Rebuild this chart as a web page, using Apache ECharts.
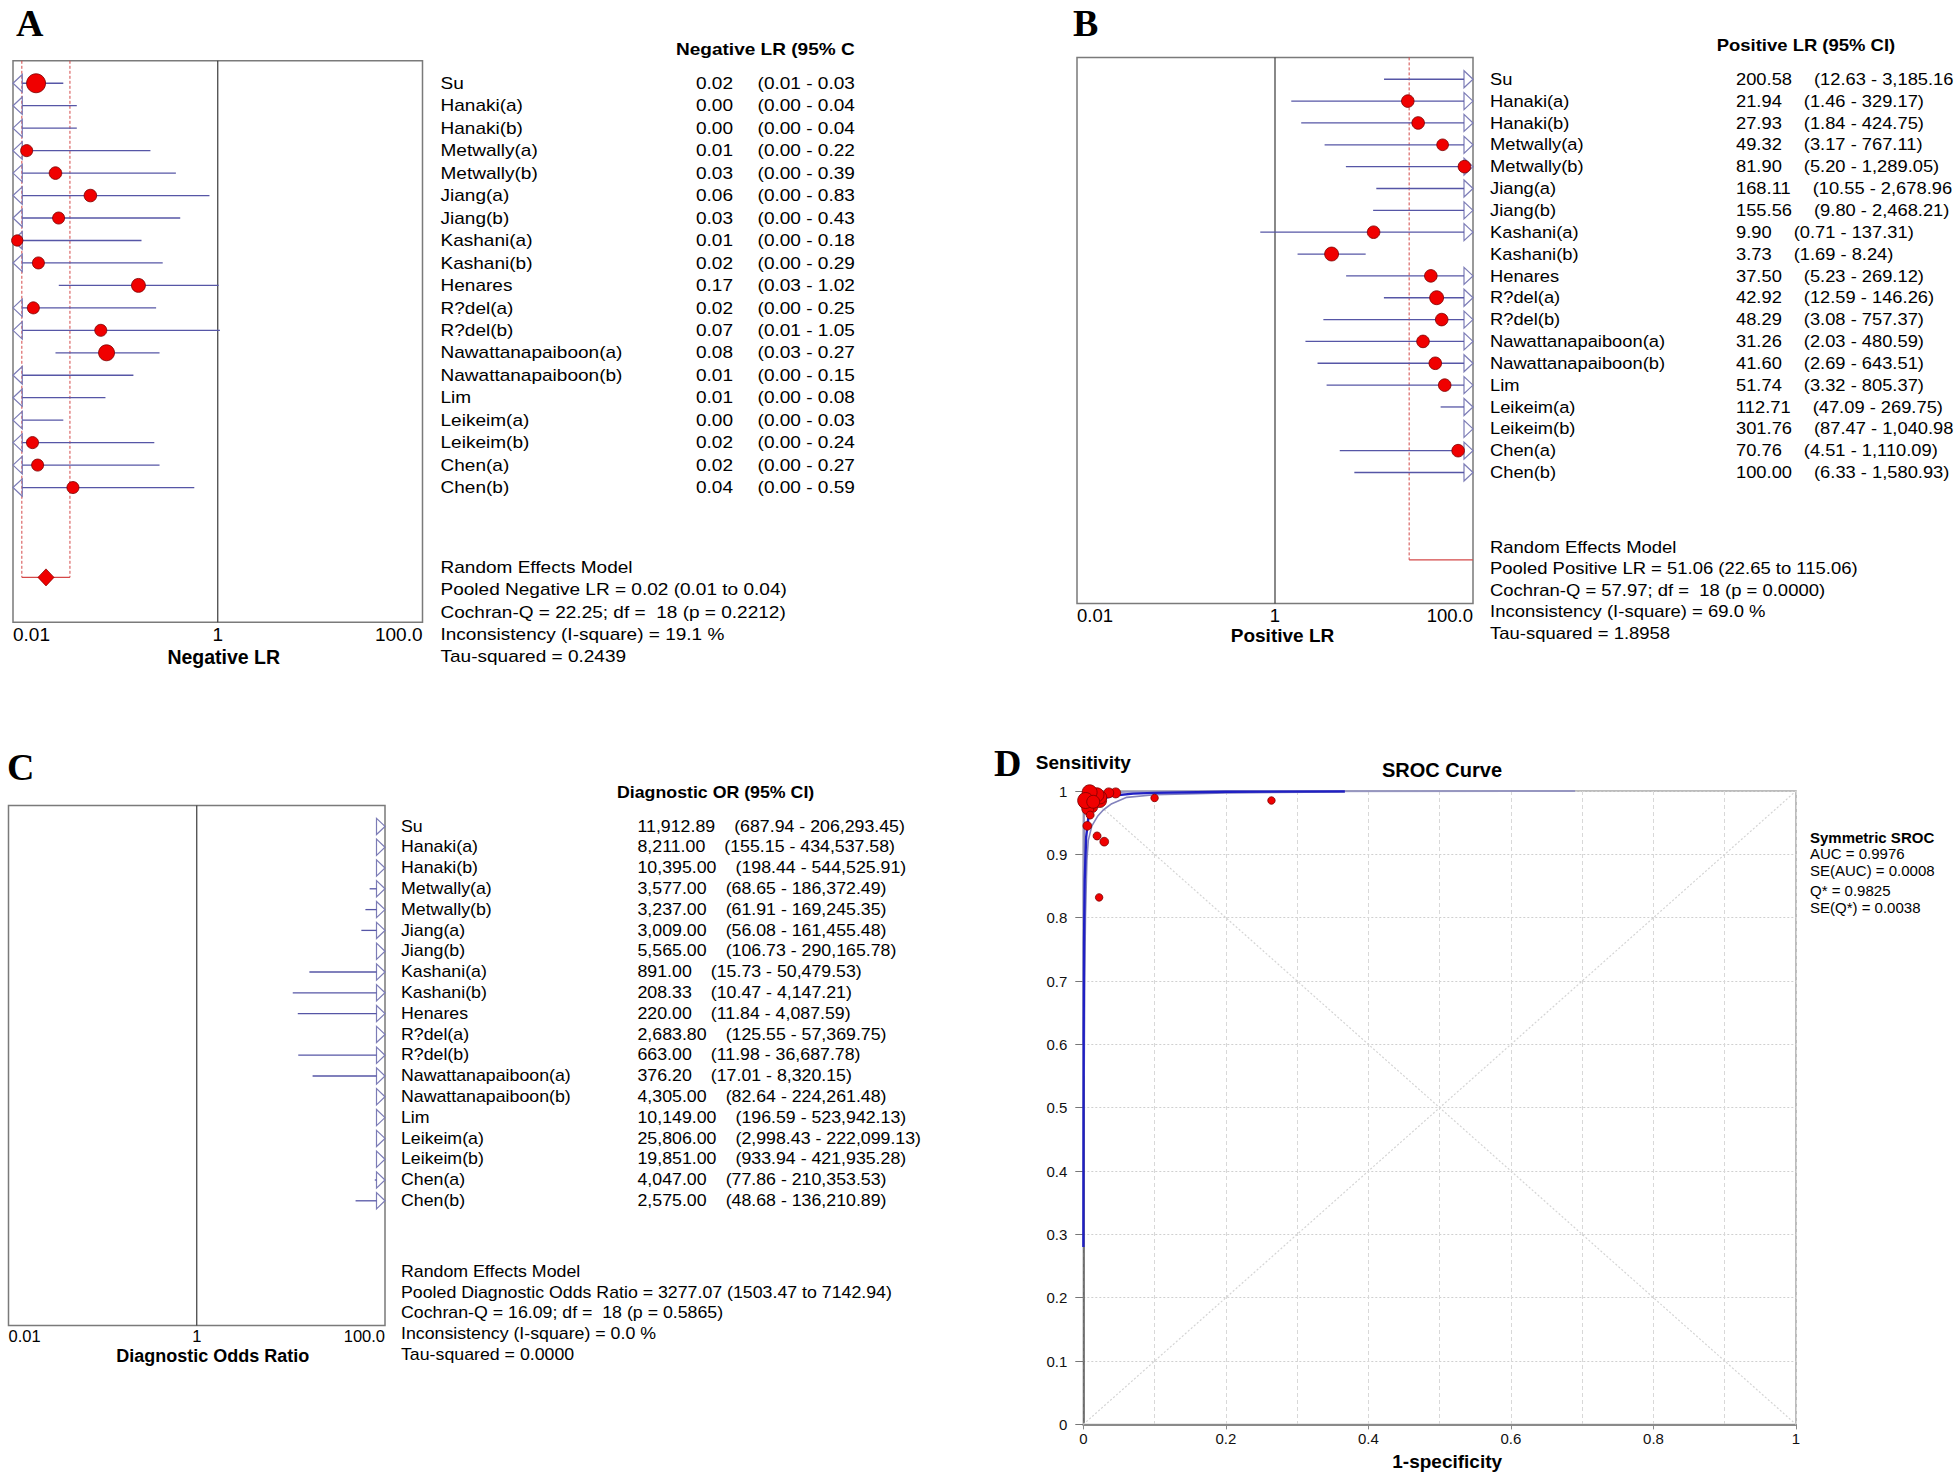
<!DOCTYPE html>
<html>
<head>
<meta charset="utf-8">
<script src="https://cdn.jsdelivr.net/npm/echarts@6/dist/echarts.min.js"></script>
<style>
html,body{margin:0;padding:0;background:#fff;}
#chart{width:1960px;height:1476px;}
</style>
</head>
<body>
<div id="chart"></div>
<script>
// ---------------- DATA ----------------
const studies = ['Su','Hanaki(a)','Hanaki(b)','Metwally(a)','Metwally(b)','Jiang(a)','Jiang(b)','Kashani(a)','Kashani(b)','Henares','R?del(a)','R?del(b)','Nawattanapaiboon(a)','Nawattanapaiboon(b)','Lim','Leikeim(a)','Leikeim(b)','Chen(a)','Chen(b)'];
const forestTickLabels = ['0.01', '1', '100.0'];

// Panel A - Negative LR
const negLR     = [0.0168, 0.003, 0.003, 0.0136, 0.026, 0.057, 0.0279, 0.011, 0.0177, 0.168, 0.0158, 0.072, 0.082, 0.0097, 0.006, 0.002, 0.0155, 0.0174, 0.0385];
const negLRLow  = [0.0095, 0.0002, 0.0002, 0.0008, 0.0015, 0.003, 0.0016, 0.0006, 0.001, 0.028, 0.0009, 0.0051, 0.026, 0.0006, 0.0004, 0.0001, 0.0009, 0.001, 0.0025];
const negLRHigh = [0.031, 0.042, 0.042, 0.22, 0.39, 0.83, 0.43, 0.18, 0.29, 1.02, 0.25, 1.05, 0.27, 0.15, 0.08, 0.031, 0.24, 0.27, 0.59];
const negLRText = ['0.02','0.00','0.00','0.01','0.03','0.06','0.03','0.01','0.02','0.17','0.02','0.07','0.08','0.01','0.01','0.00','0.02','0.02','0.04'];
const negLRCIText = ['(0.01 - 0.03','(0.00 - 0.04','(0.00 - 0.04','(0.00 - 0.22','(0.00 - 0.39','(0.00 - 0.83','(0.00 - 0.43','(0.00 - 0.18','(0.00 - 0.29','(0.03 - 1.02','(0.00 - 0.25','(0.01 - 1.05','(0.03 - 0.27','(0.00 - 0.15','(0.00 - 0.08','(0.00 - 0.03','(0.00 - 0.24','(0.00 - 0.27','(0.00 - 0.59'];
const weightNeg = [82, 33, 33, 33, 36, 36, 33, 29, 33, 44, 33, 33, 58, 33, 33, 33, 33, 33, 33];
const pooledNeg = [0.021, 0.0122, 0.036];
const summaryNeg = ['Random Effects Model','Pooled Negative LR = 0.02 (0.01 to 0.04)','Cochran-Q = 22.25; df = \u00a018 (p = 0.2212)','Inconsistency (I-square) = 19.1 %','Tau-squared = 0.2439'];

// Panel B - Positive LR
const posLR     = [200.58, 21.94, 27.93, 49.32, 81.90, 168.11, 155.56, 9.90, 3.73, 37.50, 42.92, 48.29, 31.26, 41.60, 51.74, 112.71, 301.76, 70.76, 100.00];
const posLRLow  = [12.63, 1.46, 1.84, 3.17, 5.20, 10.55, 9.80, 0.71, 1.69, 5.23, 12.59, 3.08, 2.03, 2.69, 3.32, 47.09, 87.47, 4.51, 6.33];
const posLRHigh = [3185.16, 329.17, 424.75, 767.11, 1289.05, 2678.96, 2468.21, 137.31, 8.24, 269.12, 146.26, 757.37, 480.59, 643.51, 805.37, 269.75, 1040.98, 1110.09, 1580.93];
const posLRCIText = ['(12.63 - 3,185.16','(1.46 - 329.17)','(1.84 - 424.75)','(3.17 - 767.11)','(5.20 - 1,289.05)','(10.55 - 2,678.96','(9.80 - 2,468.21)','(0.71 - 137.31)','(1.69 - 8.24)','(5.23 - 269.12)','(12.59 - 146.26)','(3.08 - 757.37)','(2.03 - 480.59)','(2.69 - 643.51)','(3.32 - 805.37)','(47.09 - 269.75)','(87.47 - 1,040.98','(4.51 - 1,110.09)','(6.33 - 1,580.93)'];
const weightPos = [36, 36, 36, 31, 36, 36, 36, 36, 44, 36, 44, 36, 36, 36, 36, 36, 36, 36, 36];
const pooledPos = [51.06, 22.65, 115.06];
const summaryPos = ['Random Effects Model','Pooled Positive LR = 51.06 (22.65 to 115.06)','Cochran-Q = 57.97; df = \u00a018 (p = 0.0000)','Inconsistency (I-square) = 69.0 %','Tau-squared = 1.8958'];

// Panel C - Diagnostic OR
const dor     = [11912.89, 8211.00, 10395.00, 3577.00, 3237.00, 3009.00, 5565.00, 891.00, 208.33, 220.00, 2683.80, 663.00, 376.20, 4305.00, 10149.00, 25806.00, 19851.00, 4047.00, 2575.00];
const dorLow  = [687.94, 155.15, 198.44, 68.65, 61.91, 56.08, 106.73, 15.73, 10.47, 11.84, 125.55, 11.98, 17.01, 82.64, 196.59, 2998.43, 933.94, 77.86, 48.68];
const dorHigh = [206293.45, 434537.58, 544525.91, 186372.49, 169245.35, 161455.48, 290165.78, 50479.53, 4147.21, 4087.59, 57369.75, 36687.78, 8320.15, 224261.48, 523942.13, 222099.13, 421935.28, 210353.53, 136210.89];
const weightDor = [36, 36, 36, 36, 36, 36, 36, 36, 36, 36, 36, 36, 36, 36, 36, 36, 36, 36, 36];
const pooledDor = [3277.07, 1503.47, 7142.94];
const summaryDor = ['Random Effects Model','Pooled Diagnostic Odds Ratio = 3277.07 (1503.47 to 7142.94)','Cochran-Q = 16.09; df = \u00a018 (p = 0.5865)','Inconsistency (I-square) = 0.0 %','Tau-squared = 0.0000'];

// Panel D - SROC
const fprD  = [0.0049, 0.0454, 0.0357, 0.0200, 0.0119, 0.0056, 0.0063, 0.100, 0.264, 0.0222, 0.0229, 0.0193, 0.0294, 0.0238, 0.0192, 0.0089, 0.0033, 0.0139, 0.0096];
const sensD = [0.983, 0.997, 0.997, 0.986, 0.975, 0.945, 0.972, 0.989, 0.985, 0.832, 0.985, 0.929, 0.920, 0.990, 0.994, 0.998, 0.985, 0.983, 0.962];
const weightD = [64, 25, 25, 42, 36, 19, 36, 14, 14, 14, 49, 16, 19, 42, 49, 56, 64, 42, 16];
const srocFpr  = [0.000125, 0.0003, 0.0005, 0.001, 0.002, 0.004, 0.007, 0.01, 0.02, 0.04, 0.07, 0.1, 0.2, 0.367];
const srocSens = [0.28, 0.49, 0.61, 0.76, 0.86, 0.927, 0.957, 0.97, 0.985, 0.9925, 0.9958, 0.997, 0.9987, 0.9994];
const lowerFpr  = [0.0012, 0.002, 0.003, 0.005, 0.007, 0.012, 0.02, 0.028, 0.04, 0.061, 0.1, 0.2, 0.367];
const lowerSens = [0.55, 0.70, 0.80, 0.89, 0.922, 0.945, 0.96, 0.97, 0.98, 0.99, 0.994, 0.997, 0.9985];
const upperFpr  = [0.0001, 0.0003, 0.0006, 0.0012, 0.003, 0.008, 0.02, 0.06, 0.2, 0.69];
const upperSens = [0.6, 0.86, 0.93, 0.965, 0.985, 0.994, 0.997, 0.999, 0.9997, 1.0];
const diagonalRefs = [[[0, 0], [1, 1]], [[0, 1], [1, 0]]];
const srocStats = ['AUC = 0.9976', 'SE(AUC) = 0.0008', 'Q* = 0.9825', 'SE(Q*) = 0.0038'];

// ---------------- HELPERS ----------------
const FONT = '"Liberation Sans", Arial, sans-serif';
const SERIF = '"Liberation Serif", "Times New Roman", serif';
const AX_MIN = 0.01, AX_MAX = 100;
const CI_COLOR = '#5656a6', TRI_COLOR = '#7c7cb6', DOT_FILL = '#f00000', DOT_STROKE = '#7a0000', POOL_COLOR = '#d44848';
const mctx = document.createElement('canvas').getContext('2d');
function textW(t, fs, bold) { mctx.font = (bold ? 'bold ' : '') + fs + 'px "Liberation Sans"'; return mctx.measureText(t).width; }
function fmt(n) { const p = n.toFixed(2).split('.'); return p[0].replace(/\B(?=(\d{3})+(?!\d))/g, ',') + '.' + p[1]; }

function forestSeries(gi, est, lo, hi, wt, valText, ciText, cfg) {
  const data = est.map((v, i) => [v, i + 1, lo[i], hi[i], wt[i], i]);
  return {
    type: 'custom', xAxisIndex: gi, yAxisIndex: gi, clip: false, silent: true, z: 3,
    encode: { x: 0, y: 1 }, data,
    renderItem(params, api) {
      const i = api.value(5), row = api.value(1);
      const vEst = api.value(0), vLo = api.value(2), vHi = api.value(3), w = api.value(4);
      const c = (x) => api.coord([x, row]);
      const y = c(1)[1];
      const rowH = api.coord([1, row + 1])[1] - y;
      const xL = c(AX_MIN)[0], xR = c(AX_MAX)[0];
      const th = rowH * 0.39;
      const ch = [];
      let x1, x2;
      if (vLo < AX_MIN) {
        x1 = xL + cfg.triW;
        ch.push({ type: 'polygon', shape: { points: [[xL, y], [xL + cfg.triW, y - th], [xL + cfg.triW, y + th]] }, style: { fill: 'rgba(0,0,0,0)', stroke: TRI_COLOR, lineWidth: 1.2 } });
      } else x1 = c(vLo)[0];
      if (vHi > AX_MAX) {
        x2 = xR - cfg.triW;
        ch.push({ type: 'polygon', shape: { points: [[xR, y], [xR - cfg.triW, y - th], [xR - cfg.triW, y + th]] }, style: { fill: 'rgba(0,0,0,0)', stroke: TRI_COLOR, lineWidth: 1.2 } });
      } else x2 = c(vHi)[0];
      if (x2 > x1) ch.push({ type: 'line', shape: { x1, y1: y, x2, y2: y }, style: { stroke: CI_COLOR, lineWidth: 1.3 } });
      if (vEst > AX_MIN && vEst < AX_MAX) {
        ch.push({ type: 'circle', shape: { cx: c(vEst)[0], cy: y, r: 1.05 * Math.sqrt(w) }, style: { fill: DOT_FILL, stroke: DOT_STROKE, lineWidth: 0.8 } });
      }
      const tStyle = (text) => ({ text, fontSize: cfg.fs, fontFamily: FONT, fill: '#000', align: 'left', verticalAlign: 'middle' });
      ch.push({ type: 'text', x: xR + cfg.nameOff, y, scaleX: cfg.sx, style: tStyle(studies[i]) });
      const vt = valText(i), ct = ciText(i);
      const vx = xR + cfg.valOff;
      ch.push({ type: 'text', x: vx, y, scaleX: cfg.sx, style: tStyle(vt) });
      ch.push({ type: 'text', x: vx + textW(vt, cfg.fs) * cfg.sx + cfg.gap, y, scaleX: cfg.sx, style: tStyle(ct) });
      return { type: 'group', children: ch };
    }
  };
}

function pooledSeries(gi, pooled) {
  return {
    type: 'custom', xAxisIndex: gi, yAxisIndex: gi, clip: false, silent: true, z: 2,
    encode: { x: 0, y: 1 }, data: [[pooled[0], 23, pooled[1], pooled[2]]],
    renderItem(params, api) {
      const est = api.value(0), row = api.value(1), lo = api.value(2), hi = api.value(3);
      const top = api.coord([1, 0])[1], bot = api.coord([1, 25])[1], yP = api.coord([1, row])[1];
      const xOf = (v) => api.coord([v, row])[0];
      const xL = xOf(AX_MIN), xR = xOf(AX_MAX);
      const ch = [{ type: 'line', shape: { x1: xOf(1), y1: top, x2: xOf(1), y2: bot }, style: { stroke: '#3a3a3a', lineWidth: 1.2 } }];
      const inLo = lo >= AX_MIN && lo <= AX_MAX, inHi = hi >= AX_MIN && hi <= AX_MAX;
      const dash = { stroke: POOL_COLOR, lineWidth: 1, lineDash: [3, 2] };
      if (inLo) ch.push({ type: 'line', shape: { x1: xOf(lo), y1: top, x2: xOf(lo), y2: yP }, style: dash });
      if (inHi) ch.push({ type: 'line', shape: { x1: xOf(hi), y1: top, x2: xOf(hi), y2: yP }, style: dash });
      if (lo < AX_MAX && hi > AX_MIN && (inLo || inHi)) {
        ch.push({ type: 'line', shape: { x1: Math.max(xL, xOf(lo)), y1: yP, x2: Math.min(xR, xOf(hi)), y2: yP }, style: { stroke: POOL_COLOR, lineWidth: 1.2 } });
      }
      if (inLo && inHi) {
        const xe = xOf(est);
        ch.push({ type: 'polygon', shape: { points: [[xe, yP - 8.5], [xe + 8, yP], [xe, yP + 8.5], [xe - 8, yP]] }, style: { fill: '#f00000', stroke: '#900000', lineWidth: 0.8 } });
      }
      return { type: 'group', children: ch };
    }
  };
}

function forestXAxis(gi, name, fs, margin, nameGap, nameFs, namePad) {
  return {
    gridIndex: gi, type: 'log', logBase: 10, min: AX_MIN, max: AX_MAX,
    name, nameLocation: 'middle', nameGap,
    nameTextStyle: { fontWeight: 'bold', fontSize: nameFs, color: '#000', fontFamily: FONT, padding: [0, 0, 0, namePad] },
    axisLine: { show: false }, axisTick: { show: false }, splitLine: { show: false },
    axisLabel: {
      show: true, fontSize: fs, color: '#000', fontFamily: FONT, margin,
      showMinLabel: true, showMaxLabel: true, alignMinLabel: 'left', alignMaxLabel: 'right',
      formatter: (v) => {
        const l = Math.log10(v);
        if (Math.abs(l + 2) < 1e-6) return forestTickLabels[0];
        if (Math.abs(l) < 1e-6) return forestTickLabels[1];
        if (Math.abs(l - 2) < 1e-6) return forestTickLabels[2];
        return '';
      }
    }
  };
}
function forestYAxis(gi) {
  return { gridIndex: gi, type: 'value', inverse: true, min: 0, max: 25, show: false };
}
function gText(x, y, text, o) {
  o = o || {};
  return { type: 'text', x, y, scaleX: o.sx || 1, silent: true,
    style: { text, fontSize: o.fs || 17, fontWeight: o.bold ? 'bold' : 'normal', fontFamily: o.family || FONT, fill: '#000', align: o.align || 'left', verticalAlign: 'middle' } };
}

// ---------------- GRAPHIC TEXT ----------------
const graphics = [];
graphics.push(gText(16, 23, 'A', { fs: 38, bold: true, family: SERIF }));
graphics.push(gText(1073, 23, 'B', { fs: 38, bold: true, family: SERIF }));
graphics.push(gText(7, 767, 'C', { fs: 38, bold: true, family: SERIF }));
graphics.push(gText(994, 763, 'D', { fs: 38, bold: true, family: SERIF }));
graphics.push(gText(676, 49, 'Negative LR (95% C', { fs: 17, bold: true, sx: 1.12 }));
graphics.push(gText(1716.7, 45, 'Positive LR (95% CI)', { fs: 16.5, bold: true, sx: 1.12 }));
graphics.push(gText(617, 793, 'Diagnostic OR (95% CI)', { fs: 16, bold: true, sx: 1.11 }));
summaryNeg.forEach((t, k) => graphics.push(gText(440.5, 567.5 + 22.2 * k, t, { fs: 17, sx: 1.12 })));
summaryPos.forEach((t, k) => graphics.push(gText(1490, 547 + 21.6 * k, t, { fs: 16.5, sx: 1.12 })));
summaryDor.forEach((t, k) => graphics.push(gText(401, 1272 + 20.6 * k, t, { fs: 16, sx: 1.11 })));
graphics.push(gText(1442, 770, 'SROC Curve', { fs: 20, bold: true, align: 'center' }));
graphics.push(gText(1810, 837, 'Symmetric SROC', { fs: 15, bold: true }));
const statY = [853.5, 870.5, 890, 907];
srocStats.forEach((t, k) => graphics.push(gText(1810, statY[k], t, { fs: 15 })));

// ---------------- CHART ----------------
const gridBase = { show: true, borderColor: '#7a7a7a', borderWidth: 1.5, containLabel: false, outerBoundsMode: 'none', backgroundColor: 'transparent' };
const pairs = (xs, ys) => xs.map((x, i) => [x, ys[i]]);
const fmt1 = (v) => { if (Math.abs(v) < 1e-9) return '0'; if (Math.abs(v - 1) < 1e-9) return '1'; return String(+v.toFixed(1)); };

const option = {
  animation: false,
  backgroundColor: '#fff',
  textStyle: { fontFamily: FONT },
  grid: [
    Object.assign({}, gridBase, { left: 13, top: 60.8, width: 409.5, height: 561.5 }),
    Object.assign({}, gridBase, { left: 1077, top: 57.4, width: 396, height: 546.2 }),
    Object.assign({}, gridBase, { left: 8.5, top: 805.6, width: 376.5, height: 520 }),
    Object.assign({}, gridBase, { left: 1083.3, top: 791, width: 712.7, height: 633.4, borderColor: '#a6a6a6' })
  ],
  xAxis: [
    forestXAxis(0, 'Negative LR', 19, 3, 25, 19.5, 12),
    forestXAxis(1, 'Positive LR', 18.5, 2, 22, 19, 15),
    forestXAxis(2, 'Diagnostic Odds Ratio', 16.5, 2, 21, 18, 32),
    {
      gridIndex: 3, type: 'value', min: 0, max: 1, interval: 0.2,
      name: '1-specificity', nameLocation: 'middle', nameGap: 28,
      nameTextStyle: { fontWeight: 'bold', fontSize: 19, color: '#000', fontFamily: FONT, padding: [0, 0, 0, 15] },
      axisLine: { show: true, lineStyle: { color: '#8a8a8a', width: 2 } },
      axisTick: { show: true, length: 5, lineStyle: { color: '#8a8a8a' } },
      axisLabel: { fontSize: 15, color: '#111', margin: 7, fontFamily: FONT, formatter: fmt1 },
      splitLine: { show: true, lineStyle: { color: '#d8d8d8', type: [4, 3], width: 1 } },
      minorTick: { show: false, splitNumber: 2 },
      minorSplitLine: { show: true, lineStyle: { color: '#d8d8d8', type: [4, 3], width: 1 } }
    }
  ],
  yAxis: [
    forestYAxis(0), forestYAxis(1), forestYAxis(2),
    {
      gridIndex: 3, type: 'value', min: 0, max: 1, interval: 0.1,
      name: 'Sensitivity', nameLocation: 'end', nameGap: 19,
      nameTextStyle: { fontWeight: 'bold', fontSize: 19, color: '#000', fontFamily: FONT },
      axisLine: { show: true, lineStyle: { color: '#555', width: 1.5 } },
      axisTick: { show: true, length: 8, lineStyle: { color: '#777' } },
      axisLabel: { fontSize: 15, color: '#111', margin: 16, fontFamily: FONT, formatter: fmt1 },
      splitLine: { show: true, lineStyle: { color: '#d0d0d0', type: [2, 2], width: 1 } }
    }
  ],
  series: [
    pooledSeries(0, pooledNeg),
    pooledSeries(1, pooledPos),
    pooledSeries(2, pooledDor),
    forestSeries(0, negLR, negLRLow, negLRHigh, weightNeg, (i) => negLRText[i], (i) => negLRCIText[i],
      { fs: 17, sx: 1.12, nameOff: 18, valOff: 273.5, gap: 24.5, triW: 9.3 }),
    forestSeries(1, posLR, posLRLow, posLRHigh, weightPos, (i) => fmt(posLR[i]), (i) => posLRCIText[i],
      { fs: 16.5, sx: 1.11, nameOff: 17, valOff: 263, gap: 22, triW: 9 }),
    forestSeries(2, dor, dorLow, dorHigh, weightDor, (i) => fmt(dor[i]), (i) => '(' + fmt(dorLow[i]) + ' - ' + fmt(dorHigh[i]) + ')',
      { fs: 16, sx: 1.11, nameOff: 16, valOff: 252.5, gap: 19, triW: 8.5 }),
    // Panel D
    ...diagonalRefs.map((d) => ({
      type: 'line', xAxisIndex: 3, yAxisIndex: 3, data: d, symbol: 'none', silent: true, z: 1,
      lineStyle: { color: '#d4d4d4', width: 1.2, type: [2, 2] }
    })),
    { type: 'line', xAxisIndex: 3, yAxisIndex: 3, data: pairs(upperFpr, upperSens), symbol: 'none', silent: true, z: 2,
      lineStyle: { color: '#9696c0', width: 2 } },
    { type: 'line', xAxisIndex: 3, yAxisIndex: 3, data: pairs(lowerFpr, lowerSens), symbol: 'none', silent: true, z: 2,
      lineStyle: { color: '#8282bc', width: 1.6 } },
    { type: 'line', xAxisIndex: 3, yAxisIndex: 3, data: pairs(srocFpr, srocSens), symbol: 'none', silent: true, z: 3,
      lineStyle: { color: '#1f1fc4', width: 2.4 } },
    { type: 'scatter', xAxisIndex: 3, yAxisIndex: 3, silent: true, z: 4,
      data: fprD.map((x, i) => [x, sensD[i], weightD[i]]),
      symbolSize: (v) => 2 * Math.sqrt(v[2]),
      itemStyle: { color: DOT_FILL, borderColor: DOT_STROKE, borderWidth: 0.8, opacity: 1 } }
  ],
  graphic: { elements: graphics }
};

const chart = echarts.init(document.getElementById('chart'), null, { renderer: 'svg', width: 1960, height: 1476 });
chart.setOption(option);
</script>
</body>
</html>
